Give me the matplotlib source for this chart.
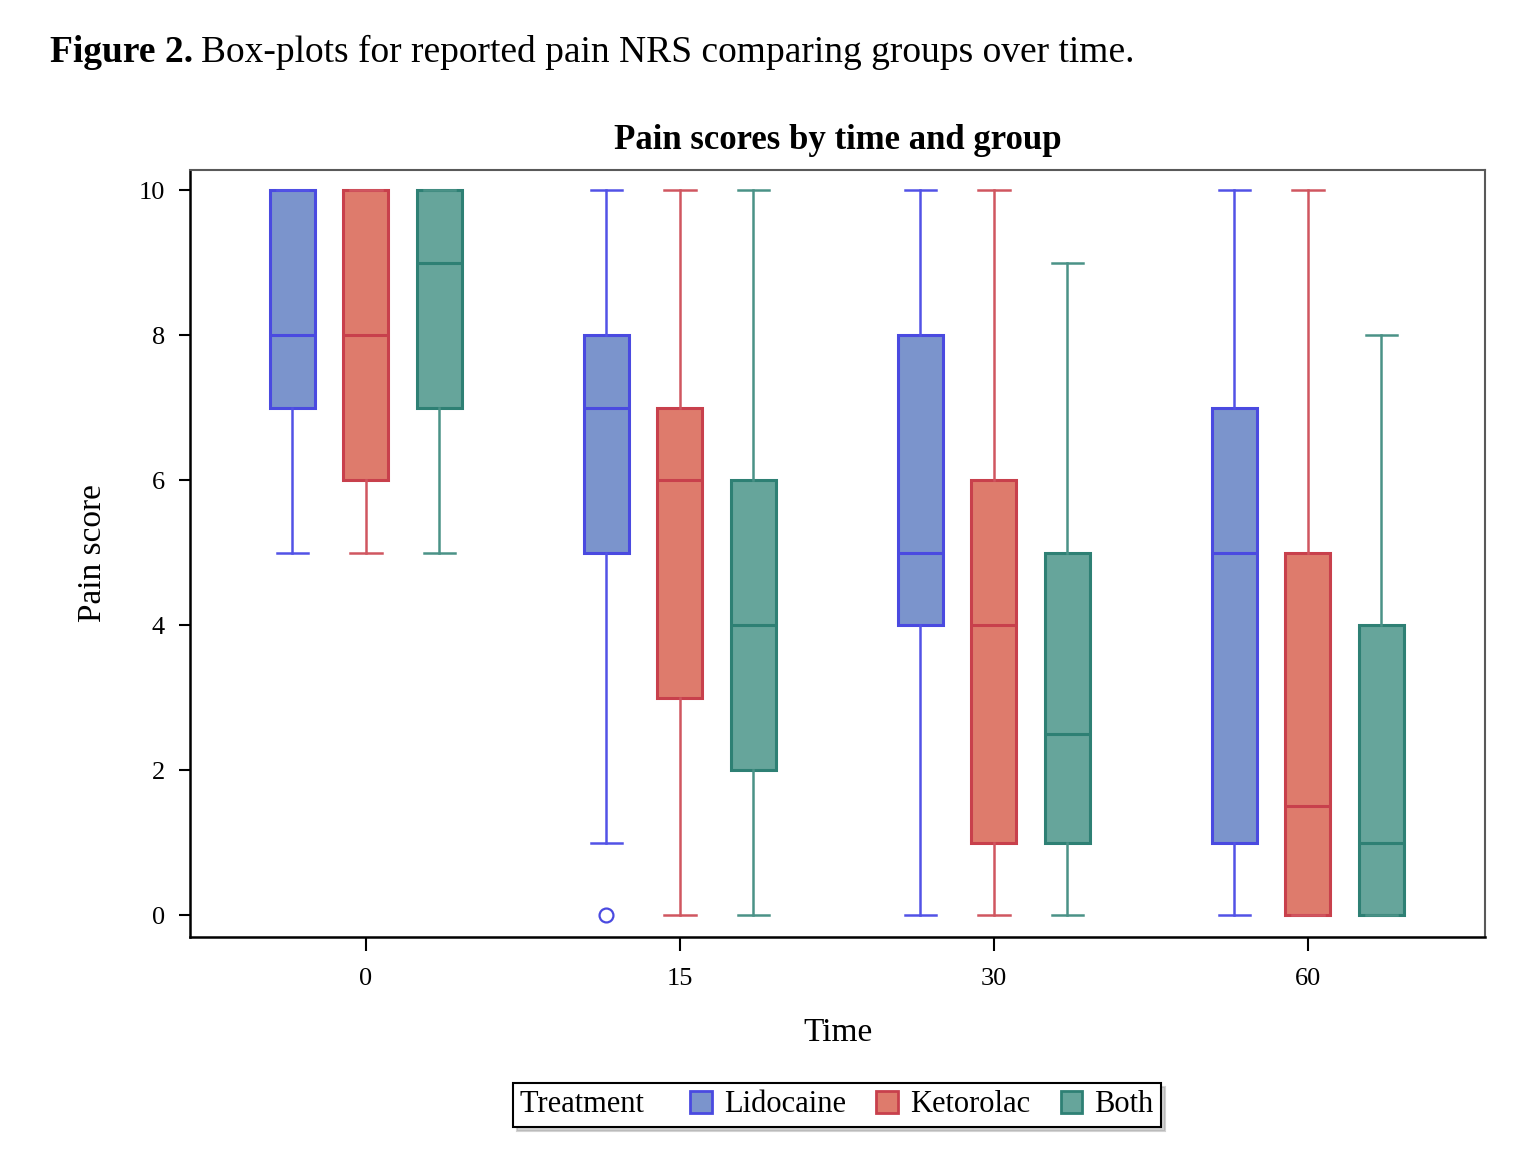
# box-plots of pain scores by time and treatment group

import matplotlib
matplotlib.use('Agg')
from matplotlib import pyplot as plt
from matplotlib.patches import Patch

plt.rcParams['font.family'] = ['Liberation Serif', 'DejaVu Serif']

times = ['0', '15', '30', '60']
groups = ['Lidocaine', 'Ketorolac', 'Both']

# five-number summaries: (whislo, q1, med, q3, whishi)
lido = [(5, 7, 8, 10, 10), (1, 5, 7, 8, 10), (0, 4, 5, 8, 10), (0, 1, 5, 7, 10)]
keto = [(5, 6, 8, 10, 10), (0, 3, 6, 7, 10), (0, 1, 4, 6, 10), (0, 0, 1.5, 5, 10)]
both = [(5, 7, 9, 10, 10), (0, 2, 4, 6, 10), (0, 1, 2.5, 5, 9), (0, 0, 1, 4, 8)]
lido_fliers = [[], [0], [], []]
keto_fliers = [[], [], [], []]
both_fliers = [[], [], [], []]

fills = ['#7b94cc', '#de7b6c', '#66a59b']
edges = ['#4a4ae0', '#c8404c', '#2e8074']
whisk = ['#5252e6', '#d05660', '#4a9287']

fig = plt.figure(figsize=(15.36, 11.61), dpi=100)
ax = fig.add_axes([190/1536, 1-937/1161, (1485-190)/1536, (937-170)/1161])

offs = [-0.234, 0.0, 0.234]
for gi, (data, fl) in enumerate(zip([lido, keto, both], [lido_fliers, keto_fliers, both_fliers])):
    stats = []
    for s, f in zip(data, fl):
        stats.append(dict(whislo=s[0], q1=s[1], med=s[2], q3=s[3], whishi=s[4], fliers=f))
    pos = [i + offs[gi] for i in range(len(times))]
    ec = edges[gi]
    ax.bxp(stats, positions=pos, widths=0.143, capwidths=0.1, patch_artist=True,
           showfliers=True,
           boxprops=dict(facecolor=fills[gi], edgecolor=ec, linewidth=2.2),
           medianprops=dict(color=ec, linewidth=2.2),
           whiskerprops=dict(color=whisk[gi], linewidth=1.8),
           capprops=dict(color=whisk[gi], linewidth=1.8),
           flierprops=dict(marker='o', markerfacecolor='none', markeredgecolor=ec,
                           markersize=10, markeredgewidth=1.6))

ax.set_xlim(-0.56, 3.564)
ax.set_ylim(-0.303, 10.276)
ax.set_xticks(range(len(times)))
ax.set_xticklabels(times)
ax.set_yticks([0, 2, 4, 6, 8, 10])
ax.tick_params(axis='both', labelsize=19, direction='out', width=1.5, colors='black')
ax.tick_params(axis='x', length=10, pad=12)
ax.tick_params(axis='y', length=8, pad=10)
for side in ['left', 'bottom']:
    ax.spines[side].set_color('black')
    ax.spines[side].set_linewidth(1.8)
for side in ['top', 'right']:
    ax.spines[side].set_color('0.35')
    ax.spines[side].set_linewidth(1.5)

ax.set_title('Pain scores by time and group', fontsize=25, fontweight='bold', pad=15)
ax.set_xlabel('Time', fontsize=24, labelpad=20)
ax.set_ylabel('Pain score', fontsize=24, labelpad=22)

# figure heading: bold label followed by regular caption
renderer = fig.canvas.get_renderer()
hsize = 27
t1 = fig.text(50/1536, 1-52/1161, 'Figure 2.', fontsize=hsize, fontweight='bold', va='center')
bb = t1.get_window_extent(renderer)
t2 = fig.text((bb.x1 + 8)/1536, 1-52/1161, 'Box-plots for reported pain NRS comparing groups over time.',
              fontsize=hsize, va='center')

handles = [Patch(facecolor='none', edgecolor='none')]
for f, e in zip(fills, edges):
    handles.append(Patch(facecolor=f, edgecolor=e, linewidth=2))
leg = fig.legend(handles, ['Treatment  '] + groups, ncol=4, loc='center',
                 bbox_to_anchor=(837/1536, 1-1105/1161), fontsize=22,
                 frameon=True, fancybox=False, edgecolor='black',
                 handlelength=0.7, handleheight=0.7, handletextpad=0.4,
                 columnspacing=1.0, borderpad=0.25,
                 shadow={'ox': 3, 'oy': -3, 'color': '0.65'})
leg.get_frame().set_linewidth(1.5)
# drop the empty handle slot in front of the "Treatment" heading
first = leg._legend_handle_box.get_children()[0].get_children()[0]
first.get_children()[0].width = 0
first.sep = 0

plt.savefig('out.png', dpi=100)
